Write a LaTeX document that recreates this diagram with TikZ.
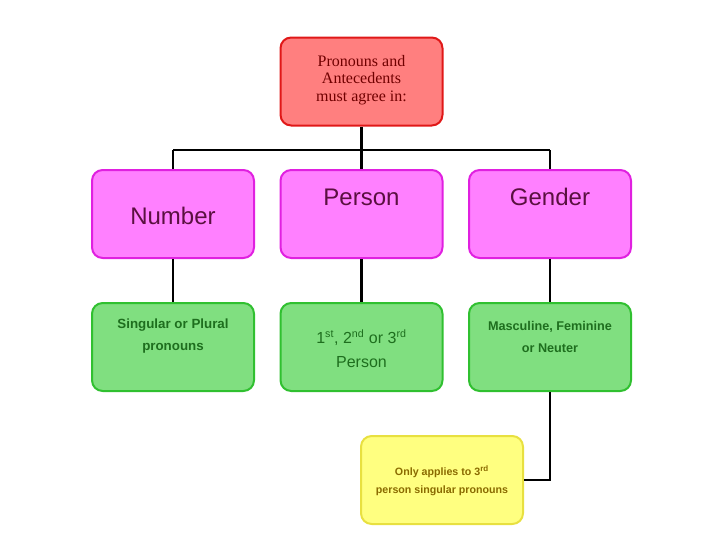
\documentclass[tikz,border=0pt]{standalone}
\usepackage{fontspec}
\setmainfont{Liberation Sans}
\newfontfamily\serifx{Liberation Serif}
\begin{document}
\begin{tikzpicture}[x=0.75pt,y=-0.75pt]
\definecolor{rfill}{HTML}{FF7F7F}\definecolor{rline}{HTML}{E01818}
\definecolor{pfill}{HTML}{FF80FF}\definecolor{pline}{HTML}{E020E0}
\definecolor{gfill}{HTML}{80DF80}\definecolor{gline}{HTML}{30C030}
\definecolor{yfill}{HTML}{FFFF80}\definecolor{yline}{HTML}{E8E040}
\definecolor{gtext}{HTML}{1E6E1E}\definecolor{ytext}{HTML}{8A6A00}
\definecolor{ptext}{HTML}{5A1040}\definecolor{rtext}{HTML}{700000}
\tikzset{box/.style={rounded corners=8pt,line width=1.5pt,minimum width=121.5pt,minimum height=66pt,inner sep=0pt},
 link/.style={line width=2pt,black}}
\useasboundingbox (0,0) rectangle (728,546);
\node[box,fill=rfill,draw=rline] (top) at (361.5,81.5) {};
\node[text=rtext,align=center,font=\serifx\fontsize{12}{13}\selectfont] (toptxt) at (361.5,80) {Pronouns and\\Antecedents\\must agree in:};
\foreach \n/\x in {a/173,b/361.5,c/550}{
 \node[box,fill=pfill,draw=pline] (p\n) at (\x,214) {};
 \node[box,fill=gfill,draw=gline] (g\n) at (\x,347) {};
}
\node[box,fill=yfill,draw=yline] (y) at (442,480) {};
\coordinate (j) at (361.5,150);
\coordinate (ja) at (173,150);\coordinate (jc) at (550,150);
\coordinate (yc) at (550,480);
\draw[link] (top.south) -- (j);
\draw[link] (ja) -- (jc);
\draw[link] (ja) -- (pa.north);\draw[link] (j) -- (pb.north);\draw[link] (jc) -- (pc.north);
\foreach \n in {a,b,c}{\draw[link] (p\n.south) -- (g\n.north);}
\draw[link] (gc.south) -- (yc) -- (y.east);
\tikzset{ptx/.style={text=ptext,font=\fontsize{18}{20}\selectfont}}
\node[ptx] (t1) at (173,216) {Number};
\node[ptx] (t2) at (361.5,197) {Person};
\node[ptx] (t3) at (550,197) {Gender};
\tikzset{gtx/.style={text=gtext,align=center,font=\bfseries\fontsize{10}{16.5}\selectfont}}
\node[gtx] (s1) at (173,336) {Singular or Plural\\pronouns};
\node[gtx,font=\fontsize{12}{18}\selectfont] (s2) at (361.5,349) {1\textsuperscript{st}, 2\textsuperscript{nd} or 3\textsuperscript{rd}\\Person};
\node[gtx,font=\bfseries\fontsize{9.5}{16}\selectfont] (s3) at (550,337) {Masculine, Feminine\\or Neuter};
\node[text=ytext,align=center,font=\bfseries\fontsize{8}{14}\selectfont] (yt) at (442,481) {Only applies to 3\textsuperscript{rd}\\person singular pronouns};
\end{tikzpicture}
\end{document}
